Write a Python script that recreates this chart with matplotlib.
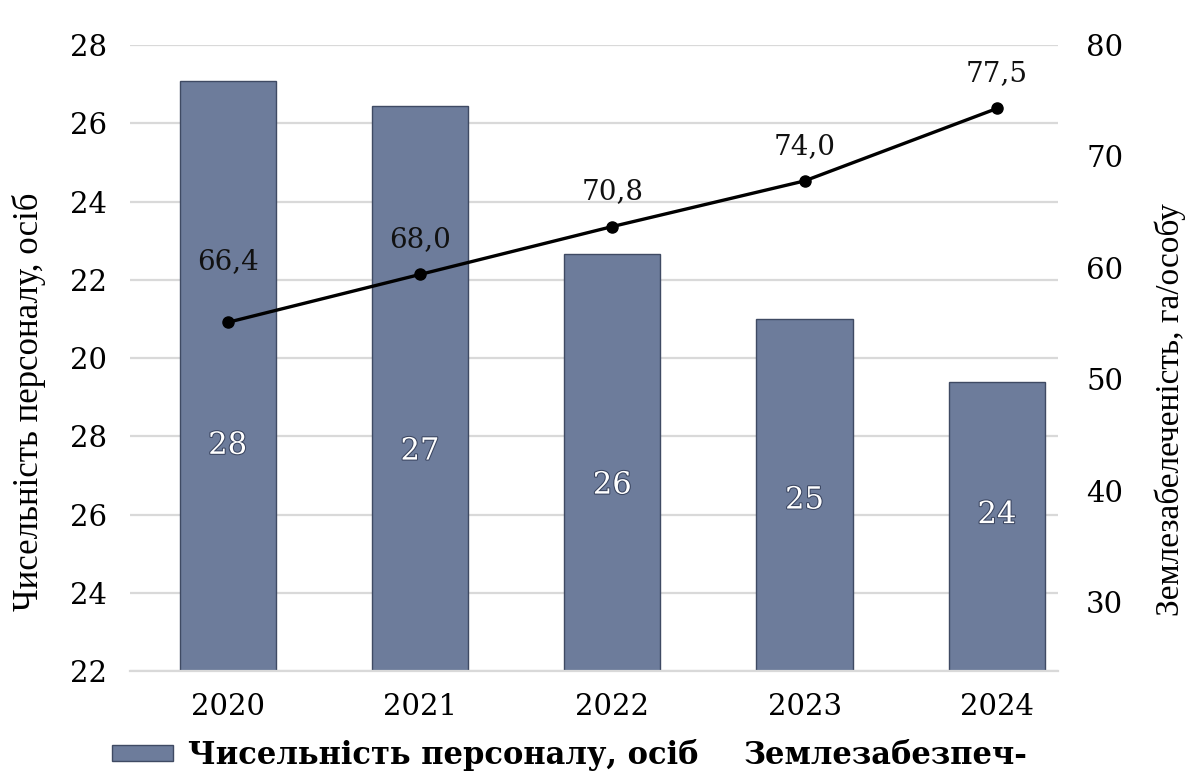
import numpy as np
import matplotlib.pyplot as plt
from matplotlib.patches import Patch
from matplotlib.lines import Line2D
import matplotlib.patheffects as pe

# data
years = ['2020', '2021', '2022', '2023', '2024']
staff = [28, 27, 26, 25, 24]                        # labels inside the bars
bar_heights = [7.54, 7.22, 5.33, 4.50, 3.69]         # bar heights on the left scale
land_labels = ['66,4', '68,0', '70,8', '74,0', '77,5']
land_plot = [55.1, 59.4, 63.7, 67.8, 74.3]           # drawn position on right axis
left_ticklabels = ['22', '24', '26', '28', '20', '22', '24', '26', '28']
right_ticks = [30, 40, 50, 60, 70, 80]

serif = ['DejaVu Serif']
bar_color = '#6d7c9b'
grid_color = '#d9d9d9'

fig = plt.figure(figsize=(12, 7.76), dpi=100)
ax = fig.add_axes([0.108, 0.1353, 0.774, 0.8067])
x = np.arange(len(years))

ax.set_ylim(0, 8)
ax.set_xlim(-0.51, len(years) - 0.68)
ax.set_yticks(range(len(left_ticklabels)))
ax.set_yticklabels(left_ticklabels, family=serif, fontsize=21)
ax.yaxis.grid(True, color=grid_color, lw=1.6)
ax.set_axisbelow(True)
ax.tick_params(axis='y', length=0, pad=16)
ax.tick_params(axis='x', length=0, pad=16)
ax.set_xticks(x)
ax.set_xticklabels(years, family=serif, fontsize=21)
for s in ['top', 'right', 'left']:
    ax.spines[s].set_visible(False)
ax.spines['bottom'].set_color(grid_color)
ax.spines['bottom'].set_linewidth(1.6)

bars = ax.bar(x, bar_heights, width=0.5, color=bar_color, edgecolor='#3f4a63', lw=1, zorder=2)
for xi, h, v in zip(x, bar_heights, staff):
    ax.text(xi, 1.15 + 0.23 * h, str(v), ha='center', va='center', color='white',
            family=serif, fontsize=22, zorder=3,
            path_effects=[pe.withStroke(linewidth=1.5, foreground='#3a4560')])

ax2 = ax.twinx()
ax2.set_ylim(23.8, 80)
ax2.set_yticks(right_ticks)
ax2.set_yticklabels([str(t) for t in right_ticks], family=serif, fontsize=21)
ax2.tick_params(axis='y', length=0, pad=20)
for s in ax2.spines.values():
    s.set_visible(False)
ax2.plot(x, land_plot, color='black', lw=2.4, marker='o', markersize=8, zorder=5)
for i, (xi, yv, lab) in enumerate(zip(x, land_plot, land_labels)):
    off = 44 if i == 0 else 25
    ax2.annotate(lab, (xi, yv), xytext=(0, off), textcoords='offset points',
                 ha='center', va='center', family=serif, fontsize=20, color='#111111')

fig.text(0.024, 0.482, 'Чисельність персоналу, осіб', rotation=90, ha='center', va='center',
         family=['Liberation Serif'], fontsize=25)
fig.text(0.975, 0.472, 'Землезабелеченість, га/особу', rotation=90, ha='center', va='center',
         family=['Liberation Serif'], fontsize=24)

handles = [Patch(facecolor=bar_color, edgecolor='#3f4a63'),
           Line2D([], [], color='none')]
fig.legend(handles, ['Чисельність персоналу, осіб', 'Землезабезпеч-'],
           loc='center left', bbox_to_anchor=(0.0933, 0.027), ncol=2, frameon=False,
           prop={'family': serif, 'weight': 'bold', 'size': 22},
           borderpad=0, borderaxespad=0,
           handlelength=2.0, handleheight=0.43, handletextpad=0.5, columnspacing=-1.05)

fig.savefig('out.png', dpi=100, facecolor='white')
